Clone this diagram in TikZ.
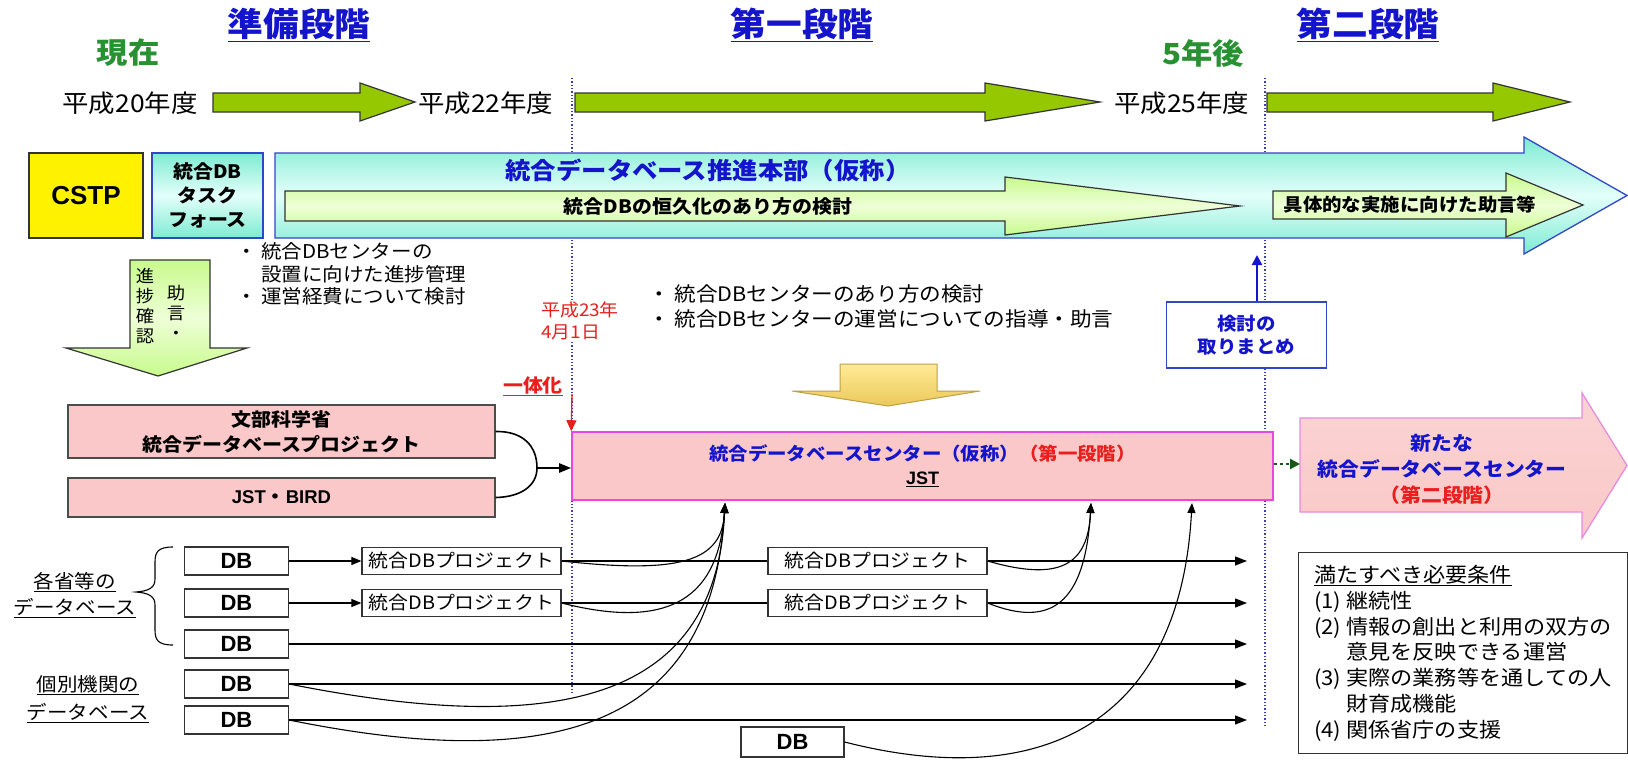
\documentclass[tikz,border=0pt]{standalone}
\usepackage{fontspec}
\setmainfont{Noto Sans CJK JP}[FakeStretch=1.08]
\newfontfamily\lat{Liberation Sans}
\usetikzlibrary{arrows.meta}
\definecolor{tblue}{RGB}{20,20,205}
\definecolor{gtext}{RGB}{40,145,50}
\definecolor{lime}{RGB}{150,200,0}
\definecolor{cyanE}{RGB}{125,235,210}
\definecolor{cyanM}{RGB}{228,255,250}
\definecolor{lgE}{RGB}{200,250,140}
\definecolor{lgM}{RGB}{238,255,215}
\definecolor{dblue}{RGB}{60,60,180}
\definecolor{bbord}{RGB}{50,70,200}
\definecolor{pinkF}{RGB}{250,200,200}
\definecolor{magB}{RGB}{235,70,225}
\definecolor{pinkB}{RGB}{230,140,220}
\definecolor{goldT}{RGB}{255,235,150}
\definecolor{goldB}{RGB}{235,200,90}
\definecolor{redT}{RGB}{235,30,30}
\definecolor{dgreen}{RGB}{20,90,20}
\newcommand\fsz[2]{\fontsize{#1}{#2}\selectfont}
\begin{document}
\begin{tikzpicture}[x=1pt,y=-1pt,
  ttl/.style={text=tblue,font=\fsz{33}{38}\bfseries,inner sep=0pt},
  gtxt/.style={text=gtext,font=\fsz{29}{32}\bfseries,inner sep=0pt},
  yr/.style={font=\fsz{24.5}{28},inner sep=0pt},
  tlarrow/.style={draw=black!80,line width=1.2pt,fill=lime},
  dotline/.style={draw=dblue,dotted,line width=1.3pt},
  bigarrow/.style={draw=bbord,line width=1.3pt,top color=cyanE,bottom color=cyanE,middle color=cyanM},
  grarrow/.style={draw=black!80,line width=1.2pt,top color=lgE,bottom color=lgE,middle color=lgM},
  plain/.style={inner sep=0pt},
  dbbox/.style={draw=black!80,line width=1.2pt,fill=white,minimum width=104pt,minimum height=28pt,inner sep=0pt,font=\fsz{22}{24}\lat\bfseries},
  pjbox/.style={draw=black!80,line width=1.2pt,fill=white,minimum height=27pt,inner sep=0pt,font=\fsz{18.4}{20}},
  pbox/.style={draw=black!70,line width=1.2pt,fill=pinkF,minimum width=427pt,inner sep=0pt,align=center,font=\fsz{18.5}{25}\bfseries},
  flow/.style={draw=black,line width=1.3pt,-{Triangle[length=12pt,width=9pt]}},
  thin flow/.style={draw=black,line width=1.1pt,-{Triangle[length=10pt,width=8pt]}}
]
\useasboundingbox (0,0) rectangle (1628,760);
\fill[white] (0,0) rectangle (1628,760);

% dotted phase lines
\draw[dotline] (572,78) -- (572,692);
\draw[dotline] (1265,78) -- (1265,728);

% titles
\node[ttl] (t1) at (299,25) {\underline{準備段階}};
\node[ttl] (t2) at (802,25) {\underline{第一段階}};
\node[ttl] (t3) at (1368,25) {\underline{第二段階}};
\node[gtxt] (now) at (128,53) {現在};
\node[gtxt] (five) at (1203,53) {5年後};

% timeline
\node[yr] (y20) at (130,103) {平成20年度};
\node[yr,anchor=west] (y22) at (418,103) {平成22年度};
\node[yr,anchor=west] (y25) at (1114,103) {平成25年度};
\draw[tlarrow] (213,93) -- (360,93) -- (360,83) -- (415,102) -- (360,121) -- (360,112) -- (213,112) -- cycle;
\draw[tlarrow] (575,93) -- (985,93) -- (985,83) -- (1100,102) -- (985,121) -- (985,112) -- (575,112) -- cycle;
\draw[tlarrow] (1267,93) -- (1493,93) -- (1493,83) -- (1570,102) -- (1493,121) -- (1493,112) -- (1267,112) -- cycle;

% row 2
\node[draw=black!80,line width=1.2pt,fill=yellow,minimum width=114pt,minimum height=85pt,font=\fsz{26}{28}\lat\bfseries] (cstp) at (86,195.5) {CSTP};
\node[draw=bbord,line width=1.3pt,top color=cyanE,bottom color=cyanE,middle color=cyanM,minimum width=111pt,minimum height=85pt,align=center,inner sep=0pt,font=\fsz{18.5}{24}\bfseries] (tf) at (207.5,195.5) {統合DB\\タスク\\フォース};
\path[bigarrow] (275,153) -- (1524,153) -- (1524,137) -- (1627,195.5) -- (1524,254) -- (1524,238) -- (275,238) -- cycle;
\node[plain,text=tblue,font=\fsz{23.5}{28}\bfseries] (hq) at (708,170) {統合データベース推進本部（仮称）};
\path[grarrow] (285,191) -- (1005,191) -- (1005,177) -- (1240,206) -- (1005,235) -- (1005,221) -- (285,221) -- cycle;
\node[plain,font=\fsz{18.5}{20}\bfseries] (perm) at (708,206) {統合DBの恒久化のあり方の検討};
\path[grarrow] (1273,191) -- (1506,191) -- (1506,173) -- (1583,205) -- (1506,237) -- (1506,219) -- (1273,219) -- cycle;
\node[plain,font=\fsz{18}{20}\bfseries] (advice) at (1410,205) {具体的な実施に向けた助言等};

% left down arrow
\path[grarrow] (130,260) -- (210,260) -- (210,348) -- (247,348) -- (158,376) -- (66,348) -- (130,348) -- cycle;
\node[plain,align=center,font=\fsz{17}{20}] (chk) at (145,306) {進\\捗\\確\\認};
\node[plain,align=center,font=\fsz{17}{20}] (adv) at (176,312) {助\\言\\・};
\node[plain,anchor=west,align=left,font=\fsz{19}{22.5}] (lb) at (236,274) {・ 統合DBセンターの\\\phantom{・ }設置に向けた進捗管理\\・ 運営経費について検討};

% center texts
\node[anchor=west,align=left,fill=white,inner sep=1pt,text=redT,font=\fsz{17.5}{22}] (date) at (540,321) {平成23年\\4月1日};
\node[plain,anchor=west,align=left,font=\fsz{20}{25}] (cb) at (648,306) {・ 統合DBセンターのあり方の検討\\・ 統合DBセンターの運営についての指導・助言};
\node[draw=bbord,line width=1.2pt,fill=white,minimum width=160pt,minimum height=66pt,align=center,inner sep=0pt,text=tblue,font=\fsz{18}{23}\bfseries] (kbox) at (1246.5,335) {検討の\\取りまとめ};
\coordinate (kt) at (1257,255);
\draw[draw=tblue,line width=2.2pt,-{Triangle[length=10pt,width=10pt]}] (kbox.north -| kt) -- (kt);
\path[draw=goldB!80!black,line width=1pt,top color=goldT,bottom color=goldB] (840,364) -- (937,364) -- (937,391) -- (980,391) -- (888,406) -- (792,391) -- (840,391) -- cycle;

% merging block
\node[plain,text=redT,font=\fsz{18.5}{22}\bfseries] (itt) at (533,386) {\underline{一体化}};
\node[pbox,minimum height=53pt] (mext) at (281.5,431.5) {文部科学省\\統合データベースプロジェクト};
\node[pbox,minimum height=39pt] (bird) at (281.5,497.5) {{\lat JST}・{\lat BIRD}};
\node[draw=magB,line width=1.6pt,fill=pinkF,minimum width=701pt,minimum height=68pt,align=center,inner sep=0pt,font=\fsz{18}{24}\bfseries] (center) at (922.5,466) {\textcolor{tblue}{統合データベースセンター（仮称）}\textcolor{redT}{（第一段階）}\\{\lat\underline{JST}}};
\coordinate (merge) at (537,468);
\draw[line width=1.6pt] (mext.east) .. controls (522,431) and (537,445) .. (merge);
\draw[line width=1.6pt] (bird.east) .. controls (522,497) and (537,485) .. (merge);
\draw[flow,line width=2.2pt] (merge) -- (center.west |- merge);
\coordinate (rs) at (572,394);
\draw[draw=redT,line width=1.3pt,-{Triangle[length=11pt,width=10pt]}] (rs) -- (center.north west);

% second stage arrow
\path[draw=pinkB,line width=1.3pt,top color=pinkF!80!white,bottom color=pinkF] (1300,418) -- (1582,418) -- (1582,393) -- (1627,465.5) -- (1582,538) -- (1582,512) -- (1300,512) -- cycle;
\coordinate (ra) at (1300,464);
\draw[draw=dgreen,line width=2.2pt,dashed,-{Triangle[length=10pt,width=10pt]}] (center.east |- ra) -- (ra);
\node[plain,align=center,font=\fsz{19.3}{26}\bfseries] (newc) at (1442,469) {\textcolor{tblue}{新たな}\\\textcolor{tblue}{統合データベースセンター}\\\textcolor{redT}{（第二段階）}};

% bottom left
\node[plain,align=center,font=\fsz{19}{26}] (lab1) at (75,595) {\underline{各省等の}\\\underline{データベース}};
\node[plain,align=center,font=\fsz{19}{28}] (lab2) at (88,699) {\underline{個別機関の}\\\underline{データベース}};
\draw[line width=1.1pt] (173,547) .. controls (158,547) and (155,552) .. (155,562) -- (155,579) .. controls (155,587) and (150,591) .. (136,592) .. controls (150,593) and (155,597) .. (155,605) -- (155,630) .. controls (155,640) and (158,645) .. (173,645);

\node[dbbox] (db1) at (236.5,561) {DB};
\node[dbbox] (db2) at (236.5,603) {DB};
\node[dbbox] (db3) at (236.5,644) {DB};
\node[dbbox] (db4) at (236.5,684) {DB};
\node[dbbox] (db5) at (236.5,720) {DB};
\node[dbbox,minimum width=103pt,minimum height=30pt] (db6) at (792.5,742) {DB};
\node[pjbox,minimum width=199pt] (pa1) at (461.5,561) {統合DBプロジェクト};
\node[pjbox,minimum width=199pt] (pa2) at (461.5,603) {統合DBプロジェクト};
\node[pjbox,minimum width=219pt] (pb1) at (877.5,561) {統合DBプロジェクト};
\node[pjbox,minimum width=219pt] (pb2) at (877.5,603) {統合DBプロジェクト};
\foreach \r/\y in {1/561,2/603,3/644,4/684,5/720} {\coordinate (e\r) at (1247,\y);}
\draw[thin flow] (db1) -- (pa1);
\draw[thin flow] (db2) -- (pa2);
\draw[line width=1.2pt] (pa1) -- (pb1);
\draw[line width=1.2pt] (pa2) -- (pb2);
\draw[flow] (pb1) -- (e1);
\draw[flow] (pb2) -- (e2);
\draw[flow] (db3) -- (e3);
\draw[flow] (db4) -- (e4);
\draw[flow] (db5) -- (e5);

% curves to the center
\coordinate (u1) at (725,503);
\coordinate (u2) at (1091,503);
\coordinate (u3) at (1192,503);
\draw[thin flow] (pa1.east) .. controls (680,574) and (722,562) .. (u1);
\draw[thin flow] (pa2.east) .. controls (660,628) and (718,606) .. (u1);
\draw[thin flow] (db4.east) .. controls (560,738) and (716,700) .. (u1);
\draw[thin flow] (db5.east) .. controls (560,775) and (712,725) .. (u1);
\draw[thin flow] (pb1.east) .. controls (1060,582) and (1088,565) .. (u2);
\draw[thin flow] (pb2.east) .. controls (1050,628) and (1085,605) .. (u2);
\draw[thin flow] (db6.east) .. controls (1040,792) and (1180,725) .. (u3);

% conditions
\node[draw=black!80,line width=1.2pt,minimum width=329pt,minimum height=201pt,anchor=north west] (cond) at (1298,552) {};
\node[plain,anchor=north west,align=left,font=\fsz{20.5}{25.8}] (condt) at (1314,565) {\underline{満たすべき必要条件}\\(1) 継続性\\(2) 情報の創出と利用の双方の\\\phantom{(2) }意見を反映できる運営\\(3) 実際の業務等を通しての人\\\phantom{(3) }財育成機能\\(4) 関係省庁の支援};
\end{tikzpicture}
\end{document}
